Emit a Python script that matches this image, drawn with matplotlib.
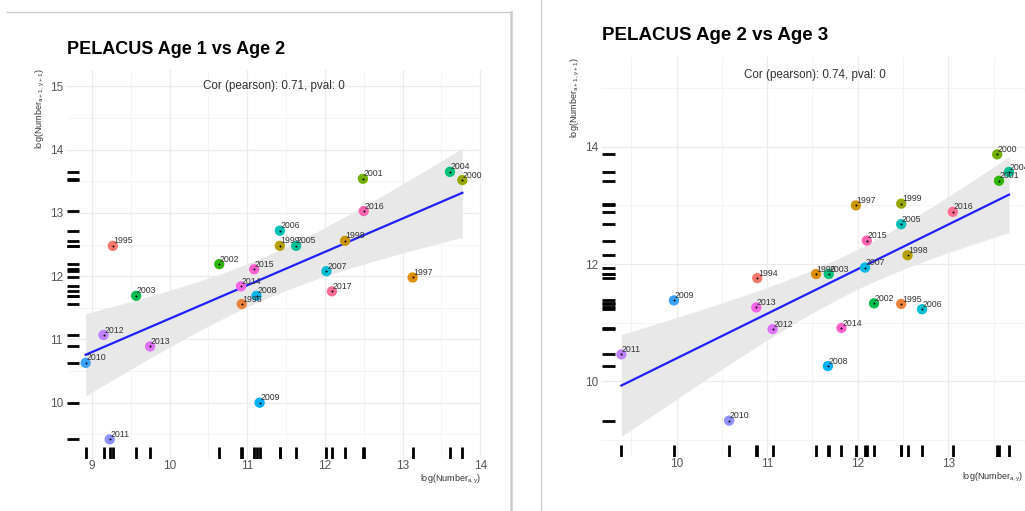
import numpy as np
import matplotlib
matplotlib.use("Agg")
import matplotlib.pyplot as plt
from matplotlib.lines import Line2D

plt.rcParams['font.family'] = ['Liberation Sans', 'DejaVu Sans']
plt.rcParams['mathtext.default'] = 'regular'

# PELACUS survey, log abundance of age a in year y vs age a+1 in year y+1
years_12 = [1995, 1996, 1997, 1998, 1999, 2000, 2001, 2002, 2003, 2004, 2005, 2006,
            2007, 2008, 2009, 2010, 2011, 2012, 2013, 2014, 2015, 2016, 2017]
age1 = [9.27, 10.93, 13.13, 12.26, 11.42, 13.77, 12.49, 10.64, 9.57, 13.61, 11.63, 11.42,
        12.02, 11.12, 11.16, 8.92, 9.23, 9.15, 9.75, 10.92, 11.09, 12.50, 12.09]
age2_next = [12.48, 11.56, 11.98, 12.56, 12.48, 13.52, 13.54, 12.19, 11.69, 13.65, 12.48, 12.72,
             12.08, 11.69, 10.00, 10.63, 9.42, 11.07, 10.89, 11.84, 12.11, 13.03, 11.76]

years_23 = [1994, 1995, 1996, 1997, 1998, 1999, 2000, 2001, 2002, 2003, 2004, 2005,
            2006, 2007, 2008, 2009, 2010, 2011, 2012, 2013, 2014, 2015, 2016]
age2 = [10.89, 12.48, 11.54, 11.98, 12.55, 12.48, 13.54, 13.56, 12.18, 11.68, 13.67, 12.48,
        12.71, 12.08, 11.67, 9.97, 10.58, 9.39, 11.06, 10.88, 11.82, 12.10, 13.05]
age3_next = [11.76, 11.32, 11.83, 13.00, 12.15, 13.03, 13.87, 13.42, 11.33, 11.83, 13.57, 12.68,
             11.23, 11.94, 10.26, 11.38, 9.33, 10.46, 10.89, 11.26, 10.91, 12.40, 12.89]

cor_12 = "Cor (pearson): 0.71, pval: 0"
cor_23 = "Cor (pearson): 0.74, pval: 0"

W, H = 1025, 511


def hue_pal(n, l=65, c=100):
    # ggplot2 default discrete palette (polar LUV -> sRGB)
    hues = np.linspace(15, 375, n + 1)[:n]
    h = np.deg2rad(hues)
    u = c * np.cos(h)
    v = c * np.sin(h)
    xn, yn, zn = 95.047, 100.0, 108.883
    un = 4 * xn / (xn + 15 * yn + 3 * zn)
    vn = 9 * yn / (xn + 15 * yn + 3 * zn)
    Y = np.full(n, yn * ((l + 16) / 116) ** 3)
    up = u / (13 * l) + un
    vp = v / (13 * l) + vn
    X = Y * 9 * up / (4 * vp)
    Z = Y * (12 - 3 * up - 20 * vp) / (4 * vp)
    xyz = np.vstack([X, Y, Z]) / 100
    m = np.array([[3.2404542, -1.5371385, -0.4985314],
                  [-0.9692660, 1.8760108, 0.0415560],
                  [0.0556434, -0.2040259, 1.0572252]])
    rgb = m @ xyz
    rgb = np.where(rgb <= 0.0031308, 12.92 * rgb, 1.055 * np.clip(rgb, 0, None) ** (1 / 2.4) - 0.055)
    return np.clip(rgb.T, 0, 1)


def panel(fig, box, x, y, years, xlim, ylim, major_x, minor_x, major_y, minor_y,
          title, title_xy, title_size, cor_text, cor_y, ylab_xy, xlab_y):
    x = np.asarray(x)
    y = np.asarray(y)
    l, t, r, b = box
    ax = fig.add_axes([l / W, 1 - b / H, (r - l) / W, (b - t) / H])
    ax.set_xlim(xlim)
    ax.set_ylim(ylim)
    for s in ax.spines.values():
        s.set_visible(False)

    ax.set_xticks(major_x)
    ax.set_xticks(minor_x, minor=True)
    ax.set_yticks(major_y)
    ax.set_yticks(minor_y, minor=True)
    ax.tick_params(which='both', length=0, labelsize=8.5, labelcolor='#555555')
    ax.tick_params(axis='x', pad=1)
    ax.tick_params(axis='y', pad=3)
    ax.grid(which='major', color='#ebebeb', linewidth=0.9)
    ax.grid(which='minor', color='#f2f2f2', linewidth=0.6)
    ax.set_axisbelow(True)

    # linear fit with 95% confidence band
    n = len(x)
    slope, icpt = np.polyfit(x, y, 1)
    xs = np.linspace(x.min(), x.max(), 100)
    fit = icpt + slope * xs
    resid = y - (icpt + slope * x)
    se = np.sqrt(np.sum(resid ** 2) / (n - 2))
    band = 2.08 * se * np.sqrt(1 / n + (xs - x.mean()) ** 2 / np.sum((x - x.mean()) ** 2))
    ax.fill_between(xs, fit - band, fit + band, color='#e8e8e8', lw=0, zorder=1)
    ax.plot(xs, fit, color='#1f1fff', lw=1.6, zorder=2)

    cols = hue_pal(len(years))
    ax.scatter(x, y, s=55, c=cols, zorder=3, lw=0)
    ax.scatter(x, y, s=2, c='black', zorder=4, lw=0)
    for xi, yi, yr in zip(x, y, years):
        ax.annotate(str(yr), (xi, yi), xytext=(0.5, 0.3), textcoords='offset points',
                    fontsize=6.3, color='#333333', ha='left', va='bottom', zorder=5)

    # rugs along both axes
    ax.vlines(x, 0, 0.03, transform=ax.get_xaxis_transform(), color='black', lw=2, zorder=2)
    ax.hlines(y, 0, 0.03, transform=ax.get_yaxis_transform(), color='black', lw=2, zorder=2)

    ax.text(np.mean(xlim), cor_y, cor_text, ha='center', va='center', fontsize=8.4, color='#333333')

    fig.text(title_xy[0] / W, 1 - title_xy[1] / H, title, fontsize=title_size,
             fontweight='bold', ha='left', va='center')
    fig.text(ylab_xy[0] / W, 1 - ylab_xy[1] / H, r'log(Number$_{a+1,y+1}$)', rotation=90,
             fontsize=6.5, color='#333333', ha='center', va='top')
    fig.text(min(r, W - 2) / W, 1 - xlab_y / H, r'log(Number$_{a,y}$)',
             fontsize=6.5, color='#333333', ha='right', va='center')
    return ax


fig = plt.figure(figsize=(W / 100, H / 100), dpi=100)

panel(fig, (67, 70, 481, 459), age1, age2_next, years_12,
      xlim=(8.68, 14.01), ylim=(9.11, 15.26),
      major_x=range(9, 15), minor_x=np.arange(9.5, 14, 1.0),
      major_y=range(10, 16), minor_y=np.arange(9.5, 15.5, 1.0),
      title='PELACUS Age 1 vs Age 2', title_xy=(67, 50), title_size=13,
      cor_text=cor_12, cor_y=15.0, ylab_xy=(40, 68), xlab_y=479)

panel(fig, (602, 57, 1028, 457), age2, age3_next, years_23,
      xlim=(9.176, 13.88), ylim=(8.71, 15.53),
      major_x=range(10, 14), minor_x=np.arange(9.5, 14, 1.0),
      major_y=[10, 12, 14], minor_y=[9, 11, 13, 15],
      title='PELACUS Age 2 vs Age 3', title_xy=(602, 36), title_size=13.5,
      cor_text=cor_23, cor_y=15.23, ylab_xy=(575, 57), xlab_y=477)

# frames of the two exported plot windows
frame = dict(color='#cccccc', transform=None)
fig.add_artist(Line2D([7, 511], [H - 12, H - 12], lw=1.0, **frame))
fig.add_artist(Line2D([511, 511], [0, H - 12], lw=1.8, **frame))
fig.add_artist(Line2D([541, 541], [0, H], lw=1.0, **frame))

fig.savefig('out.png', dpi=100)
